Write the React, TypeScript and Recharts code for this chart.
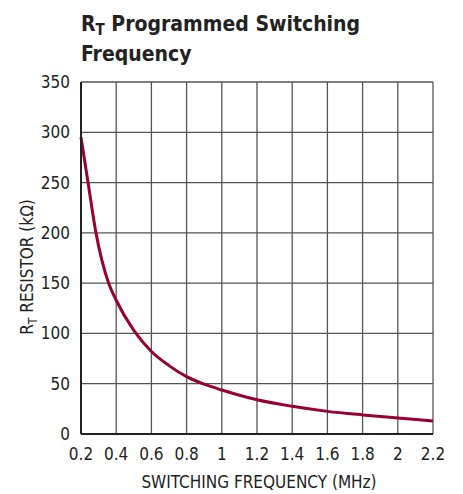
import { LineChart, Line, XAxis, YAxis, CartesianGrid } from 'recharts';

const frequency = [0.2, 0.24, 0.285, 0.357, 0.4, 0.5, 0.6, 0.7, 0.8, 0.9, 1.0, 1.2, 1.4, 1.6, 1.8, 2.0, 2.2];
const resistor = [295, 250, 200, 150, 133, 103, 82, 68, 57, 49.5, 43.7, 34, 27.5, 22.5, 19, 16, 13];
const xTicks = [0.2, 0.4, 0.6, 0.8, 1, 1.2, 1.4, 1.6, 1.8, 2, 2.2];
const yTicks = [0, 50, 100, 150, 200, 250, 300, 350];

const data = frequency.map((f, i) => ({ f, r: resistor[i] }));

const FONT = '"Liberation Sans Narrow", "DejaVu Sans Condensed", Arial, sans-serif';

export default function App() {
  return (
    <div style={{ position: 'absolute', left: 0, top: 0, width: 463, height: 494, background: '#fff', fontFamily: FONT }}>
      <div style={{ position: 'absolute', left: 81, top: 10, fontSize: 21, fontWeight: 'bold', lineHeight: '28px', color: '#222' }}>
        R<span style={{ fontSize: 15, position: 'relative', top: 4 }}>T</span> Programmed Switching
        <br />
        Frequency
      </div>
      <LineChart width={463} height={494} data={data} margin={{ top: 82, right: 30, bottom: 30, left: 21 }}>
        <CartesianGrid stroke="#555" strokeWidth={1.3} />
        <XAxis
          dataKey="f"
          type="number"
          domain={[0.2, 2.2]}
          ticks={xTicks}
          tickFormatter={(v) => String(v)}
          interval={0}
          tickLine={false}
          axisLine={{ stroke: '#222', strokeWidth: 2 }}
          tick={{ fill: '#222', fontSize: 17, fontFamily: FONT }}
          tickMargin={8}
          height={30}
          label={{
            content: () => (
              <text x={259} y={488} textAnchor="middle" fill="#222" fontSize={17} fontFamily={FONT}>
                SWITCHING FREQUENCY (MHz)
              </text>
            ),
          }}
        />
        <YAxis
          type="number"
          domain={[0, 350]}
          ticks={yTicks}
          interval={0}
          tickLine={false}
          axisLine={{ stroke: '#222', strokeWidth: 2 }}
          tick={{ fill: '#222', fontSize: 17, fontFamily: FONT }}
          tickMargin={5}
          width={60}
          label={{
            content: () => (
              <text x={33} y={267} textAnchor="middle" fill="#222" fontSize={17} fontFamily={FONT} transform="rotate(-90 33 267)">
                R<tspan fontSize={12} dy={4}>T</tspan>
                <tspan dy={-4}> RESISTOR (kΩ)</tspan>
              </text>
            ),
          }}
        />
        <Line type="monotone" dataKey="r" stroke="#990033" strokeWidth={3} dot={false} isAnimationActive={false} />
      </LineChart>
    </div>
  );
}
